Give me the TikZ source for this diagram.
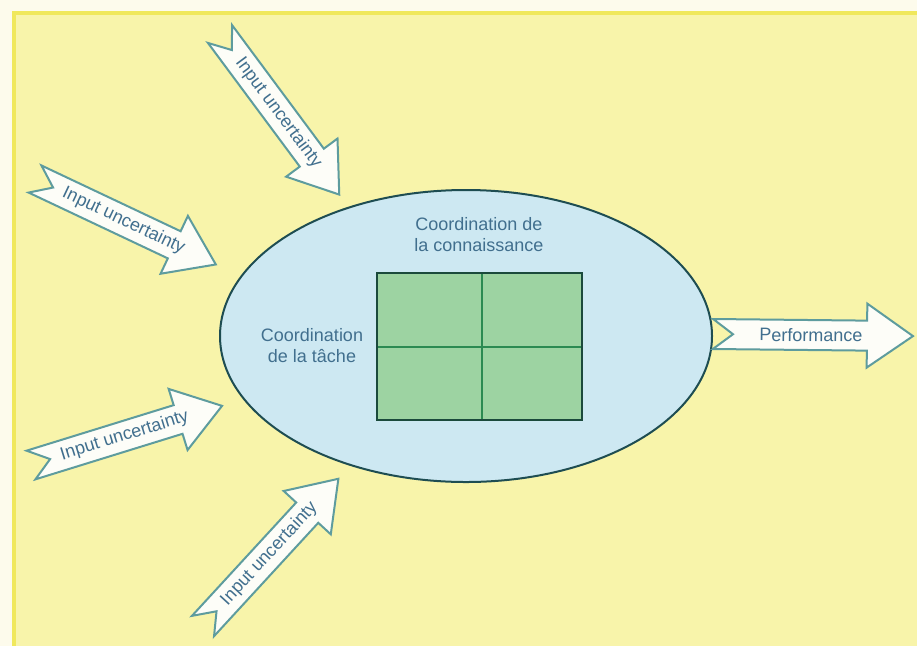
\documentclass[tikz,border=0pt]{standalone}
\usepackage{fontspec}
\setmainfont{Liberation Sans}
\usetikzlibrary{shapes.geometric}
\definecolor{paper}{HTML}{FDFBEC}
\definecolor{bgyellow}{HTML}{F8F4AA}
\definecolor{edgeyellow}{HTML}{F0E85C}
\definecolor{ellfill}{HTML}{CDE8F2}
\definecolor{ellline}{HTML}{1E4D52}
\definecolor{gridfill}{HTML}{9DD3A2}
\definecolor{gridline}{HTML}{1B4A3C}
\definecolor{divline}{HTML}{2C8A52}
\definecolor{arrline}{HTML}{5E9C9E}
\definecolor{arrfill}{HTML}{FDFDF8}
\definecolor{txtblue}{HTML}{416F8E}
\tikzset{
  arrowshape/.style={draw=arrline, fill=arrfill, line width=2pt, line join=miter},
  arrowtext/.style={text=txtblue, font=\fontsize{18}{20}\selectfont, inner sep=0pt},
  labeltext/.style={text=txtblue, font=\fontsize{18}{21}\selectfont, align=center, inner sep=0pt},
}
\newcommand\bigarrow[4]{%
  \begin{scope}[shift={#1}, rotate=#2]
    \draw[arrowshape] (0,15) -- (154,15) -- (154,32) -- (200,0) -- (154,-32)
      -- (154,-15) -- (0,-15) -- (20,0) -- cycle;
    \node[arrowtext, rotate=#2] (#4) at (98,0) {#3};
  \end{scope}}
\begin{document}
\begin{tikzpicture}[x=1pt,y=-1pt]
\useasboundingbox (0,0) rectangle (917,646);
\fill[paper] (0,0) rectangle (917,646);
\fill[bgyellow] (12,11) rectangle (917,646);
\draw[edgeyellow, line width=4pt] (14,646) -- (14,13) -- (917,13);

\node[ellipse, draw=ellline, fill=ellfill, line width=2pt, inner sep=0pt,
      minimum width=492pt, minimum height=292pt] (ell) at (466,336) {};

\node[fill=gridfill, inner sep=0pt, minimum width=205pt, minimum height=147pt] (grid) at (479.5,346.5) {};
\coordinate (vt) at (482,273);
\coordinate (vb) at (482,420);
\coordinate (hl) at (377,347);
\coordinate (hr) at (582,347);
\draw[divline, line width=1.5pt] (vt) -- (vb);
\draw[divline, line width=1.5pt] (hl) -- (hr);
\draw[gridline, line width=2.5pt] (grid.south west) rectangle (grid.north east);

\node[labeltext] (know) at (479,235) {Coordination de\\la connaissance};
\node[labeltext] (task) at (312,346) {Coordination\\de la tâche};

\bigarrow{(220,34)}{-53.4}{Input uncertainty}{in1}
\bigarrow{(35,179)}{-25.3}{Input uncertainty}{in2}
\bigarrow{(31,465)}{17.2}{Input uncertainty}{in3}
\bigarrow{(203,626)}{47.4}{Input uncertainty}{in4}
\bigarrow{(713,334)}{-0.6}{Performance}{perf}
\end{tikzpicture}
\end{document}
